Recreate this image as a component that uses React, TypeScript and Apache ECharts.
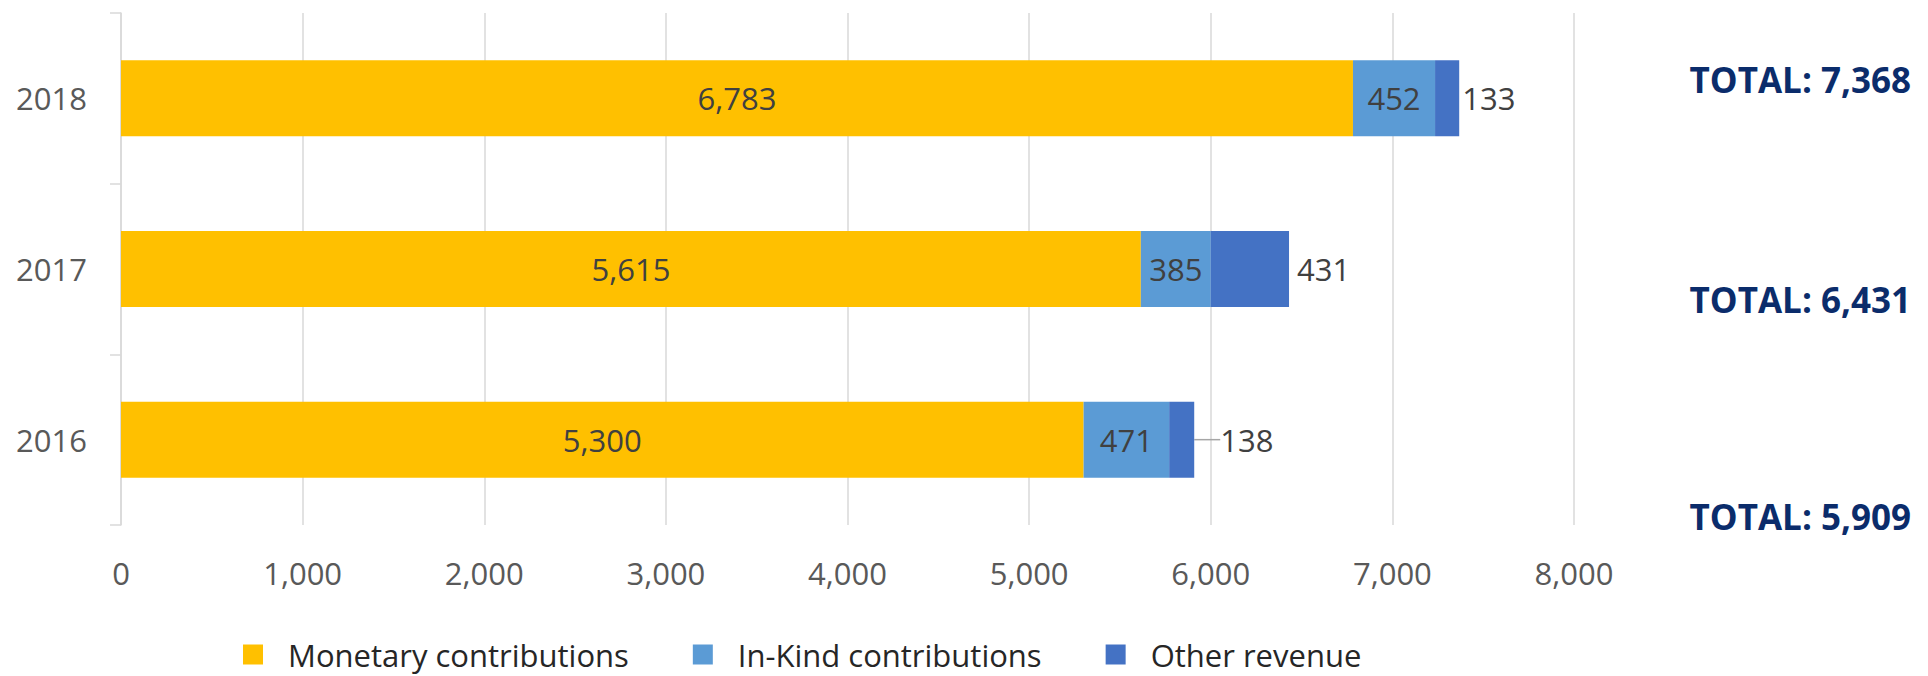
import React, { useEffect, useRef } from "react";
import * as echarts from "echarts";

const years = ["2016", "2017", "2018"];
const monetary = [5300, 5615, 6783];
const inKind = [471, 385, 452];
const other = [138, 431, 133];
const xTicks = { min: 0, max: 8000, interval: 1000 };
const totalLabelY = [516, 299, 79];
const otherLabelDistance = [4, 8, 3];

const fmt = (v: number) => v.toLocaleString("en-US");
const FONT = "Open Sans";

export default function App() {
  const ref = useRef<HTMLDivElement>(null);
  useEffect(() => {
    document.body.style.margin = "0";
    const chart = echarts.init(ref.current!, null, { renderer: "svg" });
    const totals = years.map((_, i) => monetary[i] + inKind[i] + other[i]);
    const labelBase = { fontFamily: FONT, fontSize: 31, color: "#404040" };
    chart.setOption({
      animation: false,
      grid: { left: 121, right: 354, top: 13, bottom: 151 },
      xAxis: {
        type: "value",
        min: xTicks.min,
        max: xTicks.max,
        interval: xTicks.interval,
        axisLine: { show: false },
        axisTick: { show: false },
        splitLine: { lineStyle: { color: "#d9d9d9", width: 1.5 } },
        axisLabel: {
          fontFamily: FONT,
          fontSize: 31,
          color: "#595959",
          margin: 32,
          formatter: (v: number) => fmt(v),
        },
      },
      yAxis: {
        type: "category",
        data: years,
        axisLine: { show: true, lineStyle: { color: "#d9d9d9", width: 1.5 } },
        axisTick: { show: true, length: 11, lineStyle: { color: "#d9d9d9", width: 1.5 } },
        axisLabel: { fontFamily: FONT, fontSize: 31, color: "#595959", margin: 34 },
      },
      legend: {
        left: 238,
        top: 634,
        itemWidth: 20,
        itemHeight: 20,
        itemGap: 64,
        icon: "rect",
        textStyle: {
          fontFamily: FONT,
          fontSize: 31,
          color: "#262626",
          padding: [0, 0, 0, 20],
        },
        data: ["Monetary contributions", "In-Kind contributions", "Other revenue"],
      },
      series: [
        {
          name: "Monetary contributions",
          type: "bar",
          stack: "total",
          barWidth: 76,
          data: monetary,
          itemStyle: { color: "#FFC000" },
          label: { show: true, position: "inside", ...labelBase, formatter: (p: any) => fmt(p.value) },
        },
        {
          name: "In-Kind contributions",
          type: "bar",
          stack: "total",
          barWidth: 76,
          data: inKind,
          itemStyle: { color: "#5B9BD5" },
          label: { show: true, position: "inside", ...labelBase, formatter: (p: any) => fmt(p.value) },
        },
        {
          name: "Other revenue",
          type: "bar",
          stack: "total",
          barWidth: 76,
          data: other.map((v, i) => ({
            value: v,
            label: { distance: otherLabelDistance[i] },
            labelLine: { show: i === 0 },
          })),
          itemStyle: { color: "#4472C4" },
          label: {
            show: true,
            position: "right",
            ...labelBase,
            formatter: (p: any) => fmt(p.value),
          },
          labelLine: { show: false, lineStyle: { color: "#a6a6a6", width: 1.5 } },
          labelLayout: (params: any) => (params.dataIndex === 0 ? { dx: 22 } : {}),
        },
      ],
      graphic: totals.map((t, i) => ({
        type: "text",
        x: 1911,
        y: totalLabelY[i],
        style: {
          text: "TOTAL: " + fmt(t),
          fontFamily: FONT,
          fontWeight: "bold",
          fontSize: 35,
          fill: "#0b2c6b",
          textAlign: "right",
          textVerticalAlign: "middle",
        },
      })),
    });
    return () => chart.dispose();
  }, []);
  return <div ref={ref} style={{ width: 1928, height: 676 }} />;
}
